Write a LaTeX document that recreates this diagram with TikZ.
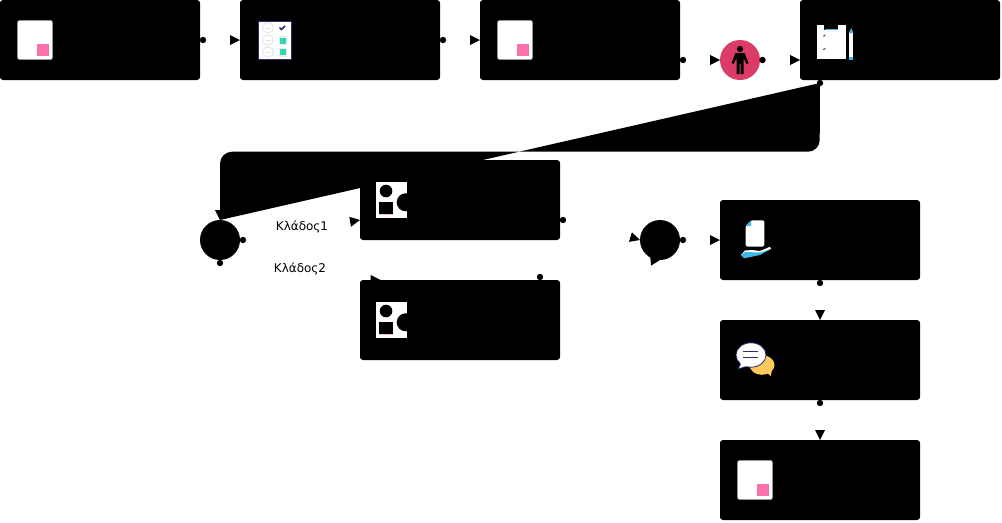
\documentclass[tikz,border=0pt]{standalone}
\usepackage{fontspec}
\setmainfont{DejaVu Sans}
\usetikzlibrary{shapes.geometric}
\definecolor{pinkdoc}{HTML}{FF6FAE}
\definecolor{navy}{HTML}{2B2D6E}
\definecolor{teal1}{HTML}{2BD9B5}
\definecolor{sky}{HTML}{3DB8E8}
\definecolor{rosec}{HTML}{DC3B68}
\definecolor{ambe}{HTML}{FFC95C}
\tikzset{
  x=0.75pt,y=-0.75pt,
  taskbox/.style={fill=black,rounded corners=2.25pt,minimum width=150pt,minimum height=60pt,inner sep=0pt,outer sep=0pt},
  gatecirc/.style={circle,fill=black,minimum size=30pt,inner sep=0pt,outer sep=0pt},
  startdot/.style={circle,fill=black,minimum size=4.8pt,inner sep=0pt,outer sep=0pt},
  tiphead/.style={isosceles triangle,isosceles triangle stretches,fill=black,minimum width=7.5pt,minimum height=7.5pt,inner sep=0pt,outer sep=0pt,anchor=apex},
  conn/.style={fill=none,draw=none},
  bigconn/.style={fill=black},
  lbl/.style={font=\fontsize{9}{11}\selectfont,text=black,inner sep=0pt},
  pics/docicon/.style={code={
    \fill[white,draw=gray!80,line width=0.4pt,rounded corners=1.5pt] (17.5,20.5) rectangle (52.5,59.5);
    \fill[pinkdoc] (37,44) rectangle (49,56);
  }},
  pics/shapeicon/.style={code={
    \fill[white] (375.7,181.7) rectangle (406.7,218.3);
    \fill[black] (386,191) circle[radius=6.3];
    \fill[black] (379.3,201.7) rectangle (392.7,214);
    \fill[black] (405.7,202.3) circle[radius=9];
    \draw[rosec,opacity=0.35,line width=0.15pt] (379.5,214) -- (392.5,214);
  }}
}
\begin{document}
\begin{tikzpicture}
\useasboundingbox (0,0) rectangle (1002,522);
\node[taskbox] (a) at (100,40) {};
\node[taskbox] (b) at (340,40) {};
\node[taskbox] (c) at (580,40) {};
\node[taskbox] (d) at (900,40) {};
\node[taskbox] (e) at (460,200) {};
\node[taskbox] (f) at (460,320) {};
\node[taskbox] (g) at (820,240) {};
\node[taskbox] (h) at (820,360) {};
\node[taskbox] (i) at (820,480) {};
\node[gatecirc] (gw1) at (220,240) {};
\node[gatecirc] (gw2) at (660,240) {};
\node[gatecirc,fill=rosec] (ev) at (740,60) {};
% start dots
\node[startdot] (da) at (203,40) {};
\node[startdot] (db) at (443,40) {};
\node[startdot] (dc) at (683,60) {};
\node[startdot] (dev) at (762.5,60) {};
\node[startdot] (dd) at (820,83) {};
\node[startdot] (dg1) at (243,240) {};
\node[startdot] (dg2) at (220,263) {};
\node[startdot] (de) at (563,220) {};
\node[startdot] (df) at (540,277) {};
\node[startdot] (dgw) at (683,240) {};
\node[startdot] (dgg) at (820,283) {};
\node[startdot] (dh) at (820,403) {};
% arrow heads
\node[tiphead] (ta) at (240,40) {};
\node[tiphead] (tb) at (480,40) {};
\node[tiphead] (tc) at (720,60) {};
\node[tiphead] (tev) at (800,60) {};
\node[tiphead,rotate=-90] (td) at (220,220) {};
\node[tiphead,rotate=10] (tg1) at (360,220) {};
\node[tiphead] (tg2) at (380.7,280) {};
\node[tiphead,rotate=-17] (te) at (640,240) {};
\node[tiphead,rotate=122] (tf) at (650,254.5) {};
\node[tiphead] (tgw) at (720,240) {};
\node[tiphead,rotate=-90] (tgg) at (820,320) {};
\node[tiphead,rotate=-90] (th) at (820,440) {};
% connectors (the straight ones enclose no area, so only their ends show)
\path[conn] (da) -- (ta);
\path[conn] (db) -- (tb);
\path[conn] (dc) -- (tc);
\path[conn] (dev) -- (tev);
\path[conn] (dg1) -- (tg1);
\path[conn] (dg2) -- (tg2);
\path[conn] (de) -- (te);
\path[conn] (df) -- (tf);
\path[conn] (dgw) -- (tgw);
\path[conn] (dgg) -- (tgg);
\path[conn] (dh) -- (th);
\path[bigconn] (dd.center) -- (819.7,140) to[out=-90,in=0] (808,151.7) -- (232,151.7) to[out=180,in=90] (220,163.5) -- (td.apex) -- cycle;
% labels
\node[lbl] (l1) at (302,226.7) {Κλάδος1};
\node[lbl] (l2) at (300,268.7) {Κλάδος2};
% doc icons
\pic at (0,0) {docicon};
\pic at (480,0) {docicon};
\pic at (720,440) {docicon};
% checklist
\fill[white,draw=navy,line width=0.75pt] (258.5,21) rectangle (291.5,59);
\foreach \yy in {27.7,40,52}{\draw[gray!25,line width=0.5pt,fill=white] (268,\yy) circle[radius=5.3];
  \draw[gray!25,line width=0.3pt] (265.5,\yy) -- (270.5,\yy);}
\draw[navy,line width=1.1pt] (279.5,27.5) -- (281.5,29.5) -- (285,26);
\fill[gray!15] (278.5,36) rectangle (286.5,45);
\fill[gray!15] (278.5,47.5) rectangle (286.5,56.5);
\fill[teal1] (280,37.7) rectangle (286,43.7);
\fill[teal1] (280,49) rectangle (286,55);
% person
\fill[black] (740,49) circle[radius=3.1];
\fill[black] (735.5,53) -- (744.5,53) -- (748.5,63) -- (746.5,64) -- (743.5,58) -- (743.5,74) -- (740.5,74) -- (740.5,64) -- (739.5,64) -- (739.5,74) -- (736.5,74) -- (736.5,58) -- (733.5,64) -- (731.5,63) -- cycle;
% clipboard
\fill[white] (816.7,25) rectangle (845.7,59.3);
\fill[black] (824.3,24.5) rectangle (838.3,30);
\fill[sky] (824.8,29.4) rectangle (837.8,30.4);
\draw[black,line width=0.4pt] (823,35.5) -- (824,36.3) -- (825.5,34.8);
\draw[black,line width=0.4pt] (823,48.8) -- (824,49.6) -- (825.5,48.1);
\fill[white] (849,33) rectangle (853.3,57);
\fill[sky] (849,33) -- (851.2,28) -- (853.3,33) -- cycle;
\fill[sky] (849,56.7) rectangle (853.3,59.5);
% shapes
\pic at (0,0) {shapeicon};
\pic at (0,120) {shapeicon};
% hand + document
\fill[white,rounded corners=1pt] (751,220.4) -- (764.3,220.4) -- (764.3,246.5) -- (745.7,246.5) -- (745.7,226) -- cycle;
\fill[sky] (751,220.6) -- (751,226) -- (745.9,226) -- cycle;
\fill[white] (745,250.5) -- (752,250) -- (760,251) -- (770,246.8) -- (771,249) -- (760,254) -- (750,254) -- (741,255) -- cycle;
\fill[sky] (741,255) -- (745,252) -- (760,252.5) -- (770.5,249) -- (760,255) -- (744,258.3) -- cycle;
% chat
\fill[ambe] (762,365) ellipse[x radius=12.5,y radius=9.8];
\fill[ambe] (764,370) -- (772,370) -- (770.7,376) -- cycle;
\draw[navy,line width=0.6pt,fill=white] (751,355) ellipse[x radius=15,y radius=12.2];
\fill[white] (741,362) -- (747,366) -- (738.3,369) -- cycle;
\draw[navy,line width=0.6pt] (740.5,364) -- (738.3,369) -- (745,366.8);
\draw[navy,line width=1pt] (743.3,351.7) -- (758.3,351.7);
\draw[navy,line width=1pt] (743.3,357.6) -- (758.3,357.6);
\end{tikzpicture}
\end{document}
